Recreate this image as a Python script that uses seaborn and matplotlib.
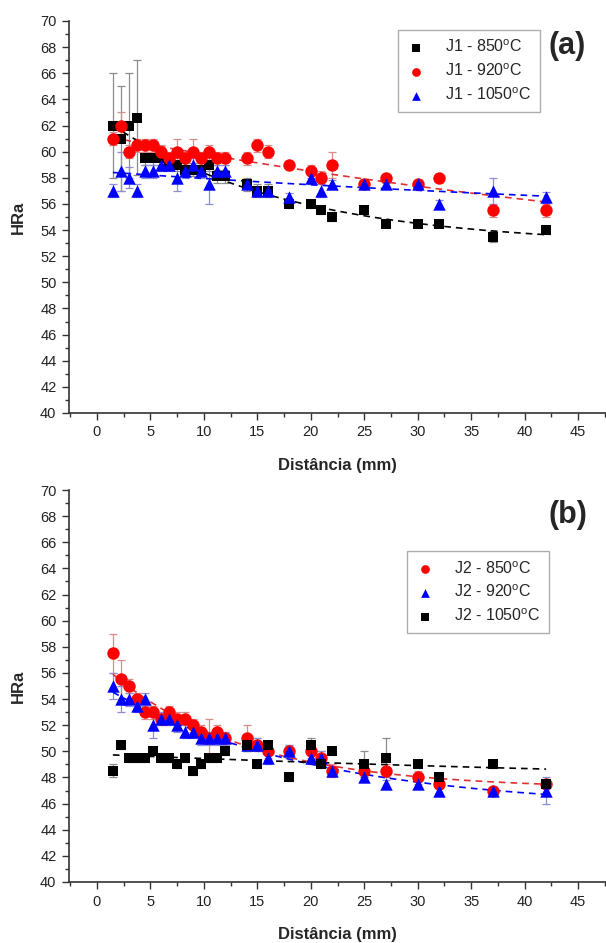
import numpy as np
import pandas as pd
import matplotlib
matplotlib.use("Agg")
import matplotlib.pyplot as plt
import seaborn as sns
from matplotlib.ticker import MultipleLocator

# shared measurement positions (mm)
DIST = [1.5, 2.25, 3, 3.75, 4.5, 5.25, 6, 6.75, 7.5, 8.25, 9, 9.75, 10.5, 11.25, 12,
        14, 15, 16, 18, 20, 21, 22, 25, 27, 30, 32, 37, 42]

# panel (a) - J1
j1_850 = [62.0, 61.0, 62.0, 62.6, 59.5, 59.5, 59.5, 59.1, 59.0, 58.6, 58.6, 58.6, 59.0, 58.1, 58.1,
          57.5, 57.0, 57.0, 56.0, 56.0, 55.5, 55.0, 55.5, 54.5, 54.5, 54.5, 53.5, 54.0]
j1_850_err = [4.0, 4.0, 4.0, 4.4, 0.5, 0.5, 0.5, 0.5, 0.5, 0.5, 0.5, 0.5, 0.5, 0.5, 0.5,
              0.5, 0.5, 0.5, 0.3, 0.3, 0.3, 0.3, 0.3, 0.3, 0.3, 0.3, 0.4, 0.3]
j1_920 = [61.0, 62.0, 60.0, 60.5, 60.5, 60.5, 60.0, 59.5, 60.0, 59.5, 60.0, 59.5, 60.0, 59.5, 59.5,
          59.5, 60.5, 60.0, 59.0, 58.5, 58.0, 59.0, 57.5, 58.0, 57.5, 58.0, 55.5, 55.5]
j1_920_err = [0.5, 1.0, 0.5, 0.5, 0.5, 0.5, 0.5, 0.5, 1.0, 0.5, 1.0, 0.5, 0.5, 0.5, 0.5,
              0.5, 0.5, 0.5, 0.3, 0.5, 0.5, 1.0, 0.3, 0.3, 0.3, 0.3, 0.5, 0.5]
j1_1050 = [57.0, 58.5, 58.0, 57.0, 58.5, 58.5, 59.0, 59.0, 58.0, 58.5, 59.0, 58.5, 57.5, 58.5, 58.5,
           57.5, 57.0, 57.0, 56.5, 58.0, 57.0, 57.5, 57.5, 57.5, 57.5, 56.0, 57.0, 56.5]
j1_1050_err = [0.5, 1.5, 0.8, 0.5, 0.5, 0.5, 0.5, 0.5, 1.0, 0.5, 0.5, 0.5, 1.5, 0.5, 0.5,
               0.3, 0.3, 0.3, 0.3, 0.5, 0.5, 0.3, 0.3, 0.3, 0.3, 0.3, 1.0, 0.4]

# panel (b) - J2
j2_850 = [57.5, 55.5, 55.0, 54.0, 53.0, 53.0, 52.5, 53.0, 52.5, 52.5, 52.0, 51.5, 51.0, 51.5, 51.0,
          51.0, 50.5, 50.0, 50.0, 50.0, 49.5, 48.5, 48.5, 48.5, 48.0, 47.5, 47.0, 47.5]
j2_850_err = [1.5, 1.5, 0.5, 0.5, 0.5, 0.5, 0.5, 0.5, 0.5, 0.5, 0.5, 0.5, 1.5, 0.5, 0.5,
              1.0, 0.5, 0.5, 0.5, 0.5, 0.5, 0.5, 0.5, 0.5, 0.5, 0.3, 0.3, 0.3]
j2_920 = [55.0, 54.0, 54.0, 53.5, 54.0, 52.0, 52.5, 52.5, 52.0, 51.5, 51.5, 51.0, 51.0, 51.0, 51.0,
          50.5, 50.5, 49.5, 50.0, 49.5, 49.5, 48.5, 48.0, 47.5, 47.5, 47.0, 47.0, 47.0]
j2_920_err = [1.0, 1.0, 0.5, 0.5, 0.5, 1.0, 0.5, 0.5, 0.5, 0.5, 0.5, 0.5, 0.5, 0.5, 0.5,
              0.5, 0.5, 0.5, 0.5, 0.5, 0.5, 0.3, 0.3, 0.3, 0.3, 0.3, 0.3, 1.0]
j2_1050 = [48.5, 50.5, 49.5, 49.5, 49.5, 50.0, 49.5, 49.5, 49.0, 49.5, 48.5, 49.0, 49.5, 49.5, 50.0,
           50.5, 49.0, 50.5, 48.0, 50.5, 49.0, 50.0, 49.0, 49.5, 49.0, 48.0, 49.0, 47.5]
j2_1050_err = [0.5, 0.3, 0.3, 0.3, 0.3, 0.3, 0.3, 0.3, 0.3, 0.3, 0.3, 0.3, 0.3, 0.3, 0.3,
               0.5, 0.3, 0.3, 0.3, 0.5, 0.3, 0.3, 1.0, 1.5, 0.3, 0.3, 0.3, 0.3]

BLACK, RED, BLUE = "#000000", "#ff0000", "#0000ff"
ERR = {BLACK: "#8c8c8c", RED: "#d98c8c", BLUE: "#8c8cd9"}
MARK = {BLACK: "s", RED: "o", BLUE: "^"}
DEG = r"$^{\mathrm{o}}$C"

panel_a = [("J1 - 850" + DEG, j1_850, j1_850_err, BLACK),
           ("J1 - 920" + DEG, j1_920, j1_920_err, RED),
           ("J1 - 1050" + DEG, j1_1050, j1_1050_err, BLUE)]
panel_b = [("J2 - 850" + DEG, j2_850, j2_850_err, RED),
           ("J2 - 920" + DEG, j2_920, j2_920_err, BLUE),
           ("J2 - 1050" + DEG, j2_1050, j2_1050_err, BLACK)]


def exp_fit(x, y):
    # y = c + a*exp(-x/t), t by grid search, a and c by least squares
    best = None
    for t in np.linspace(2, 80, 400):
        A = np.column_stack([np.ones_like(x), np.exp(-x / t)])
        coef, *_ = np.linalg.lstsq(A, y, rcond=None)
        r = np.sum((A @ coef - y) ** 2)
        if best is None or r < best[0]:
            best = (r, t, coef)
    _, t, (c, a) = best
    xs = np.linspace(x.min(), x.max(), 200)
    return xs, c + a * np.exp(-xs / t)


sns.set_theme(style="ticks")
plt.rcParams["font.family"] = ["Liberation Sans", "DejaVu Sans"]
plt.rcParams["mathtext.fontset"] = "custom"
plt.rcParams["mathtext.rm"] = "Liberation Sans"

fig = plt.figure(figsize=(6.06, 9.43), dpi=100)
ax_a = fig.add_axes([69 / 606, 530 / 943, 537 / 606, 392 / 943])
ax_b = fig.add_axes([69 / 606, 61 / 943, 537 / 606, 392 / 943])

x = np.array(DIST)
for ax, series, tag, leg_anchor in [(ax_a, panel_a, "(a)", (0.877, 0.977)),
                                    (ax_b, panel_b, "(b)", (0.894, 0.844))]:
    for name, vals, err, col in series:
        y = np.array(vals)
        ax.errorbar(x, y, yerr=err, fmt="none", ecolor=ERR[col], elinewidth=0.9,
                    capsize=3, capthick=0.9, zorder=1)
    for name, vals, err, col in series:
        xs, ys = exp_fit(x, np.array(vals))
        ax.plot(xs, ys, ls=(0, (4, 3)), color=col if col != RED else "#e03030",
                lw=1.2, zorder=2)
    for name, vals, err, col in series:
        df = pd.DataFrame({"x": DIST, "y": vals})
        sns.scatterplot(data=df, x="x", y="y", ax=ax, color=col, marker=MARK[col],
                        s=80 if col != BLACK else 60, edgecolor=col, linewidth=0,
                        label=name, zorder=3)

    ax.set_xlim(-2.6, 47.6)
    ax.set_ylim(40, 70)
    ax.xaxis.set_major_locator(MultipleLocator(5))
    ax.xaxis.set_minor_locator(MultipleLocator(2.5))
    ax.yaxis.set_major_locator(MultipleLocator(2))
    ax.yaxis.set_minor_locator(MultipleLocator(1))
    ax.tick_params(which="major", direction="out", length=5, width=1.0,
                   labelsize=10.5, color="#333333", labelcolor="#222222", pad=4)
    ax.tick_params(which="minor", direction="out", length=3, width=1.0, color="#333333")
    for s in ["top", "right"]:
        ax.spines[s].set_visible(False)
    for s in ["left", "bottom"]:
        ax.spines[s].set_color("#333333")
        ax.spines[s].set_linewidth(1.2)
    ax.set_xlabel("Distância (mm)", fontsize=12, fontweight="bold", labelpad=13)
    ax.set_ylabel("HRa", fontsize=12, fontweight="bold", labelpad=10)
    ax.text(0.893, 0.937, tag, transform=ax.transAxes,
            fontsize=22, fontweight="bold", va="center", ha="left")
    leg = ax.legend(loc="upper right", bbox_to_anchor=leg_anchor, frameon=True,
                    fancybox=False, edgecolor="#999999", fontsize=11.5,
                    handletextpad=1.2, borderpad=0.55, labelspacing=0.45,
                    markerscale=0.7, handlelength=1.2, borderaxespad=0)
    leg.get_frame().set_linewidth(1.0)

fig.savefig("out.png", dpi=100)
